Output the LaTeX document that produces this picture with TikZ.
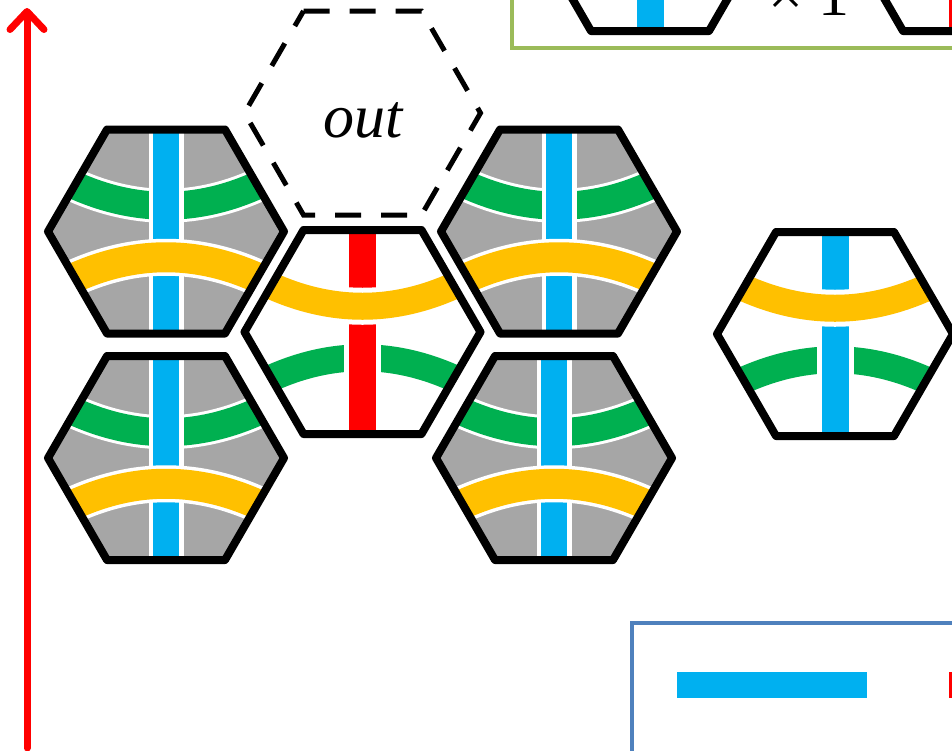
\documentclass[tikz,border=0pt]{standalone}
\usepackage{fontspec}
\setmainfont{Liberation Serif}
\usetikzlibrary{arrows.meta}

\definecolor{cellgray}{HTML}{A6A6A6}
\definecolor{barblue}{HTML}{00B0F0}
\definecolor{barred}{HTML}{FF0000}
\definecolor{bandgreen}{HTML}{00B050}
\definecolor{bandyellow}{HTML}{FFC000}
\definecolor{keygreen}{HTML}{9BBB59}
\definecolor{keyblue}{HTML}{4F81BD}

\begin{document}
\begin{tikzpicture}[x=1pt, y=-1pt, >=Stealth,
    cellrim/.style={line width=8pt, line join=round},
    keybox/.style={line width=3.5pt}]
  \useasboundingbox (0,0) rectangle (952,750);
  \clip (0,0) rectangle (952,750);
  % one hexagon cell, centre at the origin, pointy left and right
  \newcommand{\hexpath}{(-118,0) -- (-59,-102) -- (59,-102) -- (118,0) -- (59,102) -- (-59,102) -- cycle}
  \newcommand{\upperband}{(-130,-67) .. controls (-43,-12) and (43,-12) .. (130,-67)}
  \newcommand{\lowerband}{(-130,67) .. controls (-43,12) and (43,12) .. (130,67)}
  % a grey cell: green band, blue bar over it, yellow band over the bar
  \newcommand{\graycell}[1]{%
    \begin{scope}[shift={#1}]
      \begin{scope}
        \clip \hexpath;
        \fill[cellgray] \hexpath;
        \draw[white, line width=34pt] \upperband;
        \draw[bandgreen, line width=28pt] \upperband;
        \fill[white] (-17.5,-110) rectangle (17.5,110);
        \fill[barblue] (-13,-110) rectangle (13,110);
        \draw[white, line width=37pt] \lowerband;
        \draw[bandyellow, line width=30pt] \lowerband;
      \end{scope}
      \draw[cellrim] \hexpath;
    \end{scope}}
  % a white cell: green band, bar (colour #2) over it, yellow band over the bar
  \newcommand{\whitecell}[2]{%
    \begin{scope}[shift={#1}]
      \begin{scope}
        \clip \hexpath;
        \fill[white] \hexpath;
        \draw[bandgreen, line width=27pt] \lowerband;
        \fill[white] (-18.5,-110) rectangle (18.5,110);
        \fill[#2] (-13.5,-110) rectangle (13.5,110);
        \draw[white, line width=37pt] \upperband;
        \draw[bandyellow, line width=27pt] \upperband;
      \end{scope}
      \draw[cellrim] \hexpath;
    \end{scope}}
  % ------------------------------------------------------------------ the axis
  \coordinate (axis-low) at (27,748);
  \coordinate (axis-high) at (27,8);
  \draw[barred, line width=7pt, line cap=round,
    -{Straight Barb[length=18pt, width=34pt, round]}] (axis-low) -- (axis-high);
  % ------------------------------------------------------------------ key, top
  \draw[keygreen, keybox] (512,-20) rectangle (1000,48);
  \whitecell{(650,-71)}{barblue}
  \node[anchor=base west, inner sep=0pt, font=\fontsize{62}{62}\selectfont] (times-one) at (768,15.6) {× 1};
  \whitecell{(962,-71)}{barred}
  % ------------------------------------------------------------------ the removed cell
  \draw[line width=5pt, dash pattern=on 26pt off 20pt] (362.5,113) ++(-59,-102) -- ++(118,0) -- ++(59,102)
    -- ++(-59,102) -- ++(-118,0) -- ++(-59,-102) -- cycle;
  \node[anchor=base, inner sep=0pt, font=\fontsize{62}{62}\selectfont\itshape] (out) at (363,137) {out};
  % ------------------------------------------------------------------ the cells
  \graycell{(166,231.5)}
  \graycell{(166,458)}
  \whitecell{(362.5,332)}{barred}
  \graycell{(559,231.5)}
  \graycell{(554,458)}
  \whitecell{(835,334)}{barblue}
  % ------------------------------------------------------------------ key, bottom
  \draw[keyblue, keybox] (632,623) rectangle (1000,800);
  \fill[barblue] (677,672) rectangle (867,698);
  \fill[barred] (949,672) rectangle (990,698);
\end{tikzpicture}
\end{document}
